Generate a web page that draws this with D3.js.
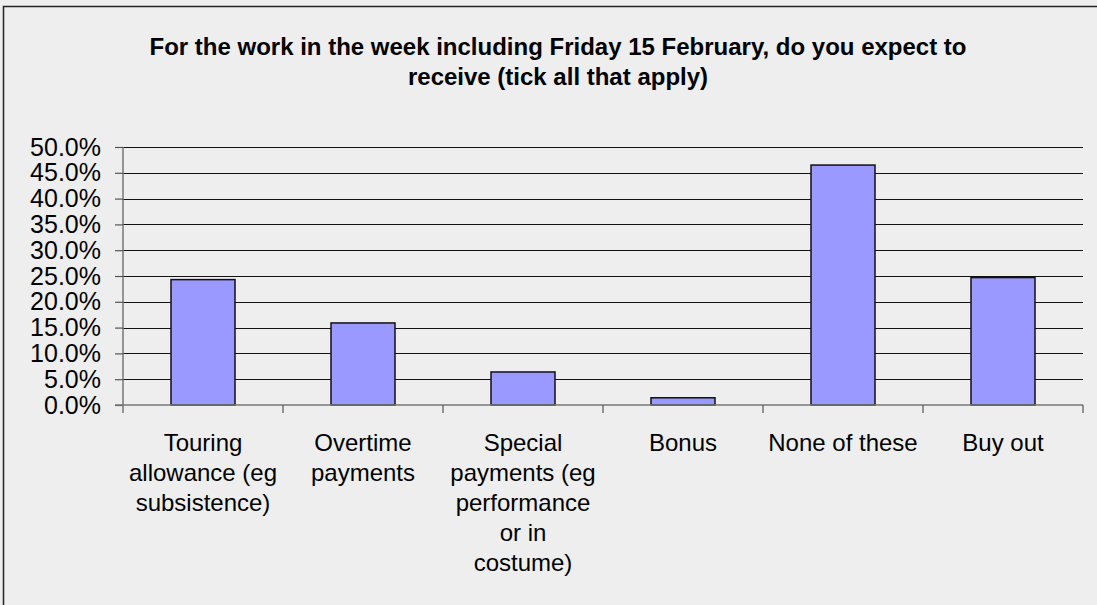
<!DOCTYPE html>
<html>
<head>
<meta charset="utf-8">
<script src="https://cdn.jsdelivr.net/npm/d3@7"></script>
<style>
	body { margin: 0; background: #eeeeee; }
	text { font-family: "Liberation Sans", Arial, sans-serif; fill: #000; }
</style>
</head>
<body>
<script>
// chart data
const categories = [
	["Touring", "allowance (eg", "subsistence)"],
	["Overtime", "payments"],
	["Special", "payments (eg", "performance", "or in", "costume)"],
	["Bonus"],
	["None of these"],
	["Buy out"]
];
const values = [24.3, 15.9, 6.4, 1.4, 46.5, 24.7];
const yTicks = [0, 5, 10, 15, 20, 25, 30, 35, 40, 45, 50];
const titleLines = [
	"For the work in the week including Friday 15 February, do you expect to",
	"receive (tick all that apply)"
];

const width = 1097, height = 605;
const margin = {left: 123, right: 14, top: 147, bottom: 200};

let svg = d3.select("body").append("svg")
	.attr("width", width)
	.attr("height", height);

//background and frame
svg.append("rect")
	.attr("width", width).attr("height", height)
	.attr("fill", "#eeeeee");
svg.append("rect")
	.attr("x", 3.5).attr("y", 6.5)
	.attr("width", width + 10).attr("height", height + 10)
	.attr("fill", "none")
	.attr("stroke", "#222")
	.attr("stroke-width", 1.5);

let x = d3.scaleBand()
	.domain(d3.range(categories.length))
	.range([margin.left, width - margin.right])
	.paddingInner(0.6)
	.paddingOuter(0.3);

let y = d3.scaleLinear()
	.domain([0, 50])
	.range([405, margin.top]);

//title
svg.append("text")
	.attr("text-anchor", "middle")
	.attr("font-weight", "bold")
	.attr("font-size", 24)
	.selectAll("tspan")
	.data(titleLines)
	.enter().append("tspan")
	.attr("x", 558)
	.attr("y", (d, i) => 55 + i * 30)
	.text(d => d);

//gridlines
svg.append("g")
	.selectAll("line")
	.data(yTicks.slice(1))
	.enter().append("line")
	.attr("x1", margin.left)
	.attr("x2", width - margin.right)
	.attr("y1", d => Math.round(y(d)) + 0.5)
	.attr("y2", d => Math.round(y(d)) + 0.5)
	.attr("stroke", "#111")
	.attr("stroke-width", 1);

//bars
svg.append("g")
	.selectAll("rect")
	.data(values)
	.enter().append("rect")
	.attr("x", (d, i) => x(i))
	.attr("y", d => y(d))
	.attr("width", x.bandwidth())
	.attr("height", d => y(0) - y(d))
	.attr("fill", "#9999ff")
	.attr("stroke", "#111")
	.attr("stroke-width", 1.5);

//y axis
let yAxis = d3.axisLeft(y)
	.tickValues(yTicks)
	.tickSize(8)
	.tickPadding(14)
	.tickFormat(d => d.toFixed(1) + "%");
let yg = svg.append("g")
	.attr("transform", `translate(${margin.left},0)`)
	.call(yAxis);
yg.select(".domain")
	.attr("d", `M0,${y(50)}V${y(0) + 8}`)
	.attr("stroke", "#777")
	.attr("stroke-width", 1.5);
yg.selectAll(".tick line").attr("stroke", "#555").attr("stroke-width", 1.2);
yg.selectAll(".tick text")
	.attr("font-size", 25)
	.attr("font-family", "Liberation Sans, Arial, sans-serif")
	.attr("fill", "#000");

//x axis with tick marks at category boundaries
let step = x.step();
let bounds = d3.range(categories.length + 1).map(i => margin.left + i * step);
svg.append("line")
	.attr("x1", margin.left - 8).attr("x2", width - margin.right)
	.attr("y1", y(0)).attr("y2", y(0))
	.attr("stroke", "#777").attr("stroke-width", 1.5);
svg.append("g")
	.selectAll("line")
	.data(bounds.slice(1))
	.enter().append("line")
	.attr("x1", d => d).attr("x2", d => d)
	.attr("y1", y(0)).attr("y2", y(0) + 8)
	.attr("stroke", "#555").attr("stroke-width", 1.2);

//category labels
svg.append("g")
	.selectAll("text")
	.data(categories)
	.enter().append("text")
	.attr("text-anchor", "middle")
	.attr("font-size", 24)
	.each(function (d, i) {
		d3.select(this).selectAll("tspan")
			.data(d)
			.enter().append("tspan")
			.attr("x", x(i) + x.bandwidth() / 2)
			.attr("y", (t, j) => 451 + j * 30)
			.text(t => t);
	});
</script>
</body>
</html>
